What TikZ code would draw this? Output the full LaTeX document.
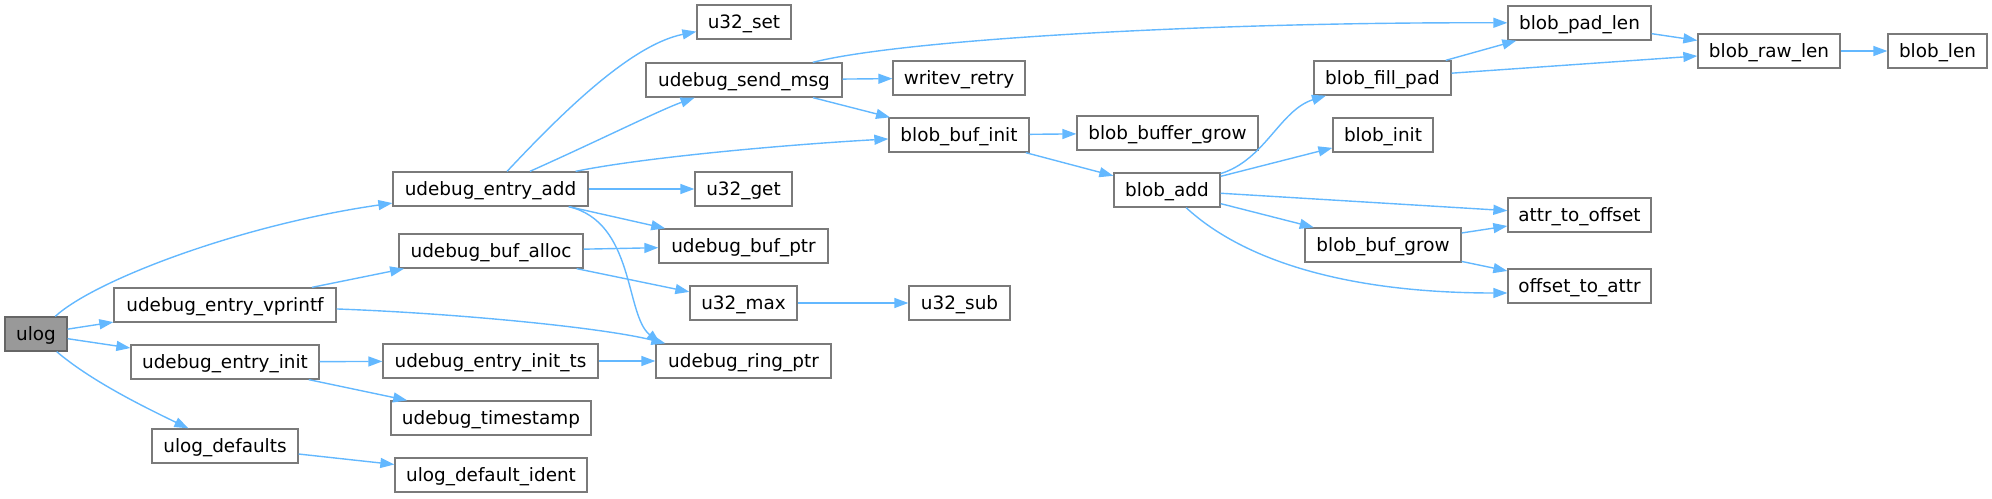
\documentclass[tikz,border=0pt]{standalone}
\usepackage{fontspec}
\setmainfont{DejaVu Sans}
\usetikzlibrary{arrows.meta,calc}
\definecolor{edgeblue}{HTML}{63B8FF}
\definecolor{boxline}{HTML}{7A7A7A}
\definecolor{rootfill}{HTML}{999999}
\definecolor{rootline}{HTML}{666666}
\begin{document}
\begin{tikzpicture}[x=1pt,y=-1pt,
  fn/.style={draw=boxline, line width=1.3pt, fill=white, minimum height=34pt,
    inner sep=0pt, font=\fontsize{18.4pt}{22pt}\selectfont, text height=14pt, text depth=1pt},
  root/.style={fn, fill=rootfill, draw=rootline},
  call/.style={draw=edgeblue, line width=1.4pt, -{Triangle[length=14pt,width=10pt]}}]
\useasboundingbox (0,0) rectangle (1992,498);

\node[root, minimum width=62pt] (ulog) at (36,334) {ulog};
\node[fn, minimum width=222pt] (vprintf) at (225,305) {udebug\_entry\_vprintf};
\node[fn, minimum width=188pt] (einit) at (225,362) {udebug\_entry\_init};
\node[fn, minimum width=146pt] (udefs) at (225,446) {ulog\_defaults};
\node[fn, minimum width=195pt] (eadd) at (490.5,189) {udebug\_entry\_add};
\node[fn, minimum width=184pt] (balloc) at (491,251) {udebug\_buf\_alloc};
\node[fn, minimum width=215pt] (initts) at (490.5,361) {udebug\_entry\_init\_ts};
\node[fn, minimum width=200pt] (tstamp) at (491,418) {udebug\_timestamp};
\node[fn, minimum width=192pt] (dident) at (491,475) {ulog\_default\_ident};
\node[fn, minimum width=94pt] (uset) at (744,22) {u32\_set};
\node[fn, minimum width=196pt] (sendmsg) at (744,80) {udebug\_send\_msg};
\node[fn, minimum width=97pt] (uget) at (743.5,189) {u32\_get};
\node[fn, minimum width=169pt] (bufptr) at (743.5,246) {udebug\_buf\_ptr};
\node[fn, minimum width=107pt] (umax) at (743.5,303) {u32\_max};
\node[fn, minimum width=175pt] (ringptr) at (743.5,361) {udebug\_ring\_ptr};
\node[fn, minimum width=132pt] (writev) at (959,78) {writev\_retry};
\node[fn, minimum width=140pt] (bbinit) at (959,135) {blob\_buf\_init};
\node[fn, minimum width=101pt] (usub) at (959.5,303) {u32\_sub};
\node[fn, minimum width=181pt] (bbgrowb) at (1167.5,133) {blob\_buffer\_grow};
\node[fn, minimum width=106pt] (badd) at (1167,190) {blob\_add};
\node[fn, minimum width=137pt] (bfill) at (1382.5,78) {blob\_fill\_pad};
\node[fn, minimum width=100pt] (binit) at (1383,135) {blob\_init};
\node[fn, minimum width=156pt] (bgrow) at (1383,245) {blob\_buf\_grow};
\node[fn, minimum width=143pt] (bpad) at (1579.5,23) {blob\_pad\_len};
\node[fn, minimum width=143pt] (atoo) at (1579.5,215) {attr\_to\_offset};
\node[fn, minimum width=143pt] (otoa) at (1579.5,286) {offset\_to\_attr};
\node[fn, minimum width=142pt] (braw) at (1769,51) {blob\_raw\_len};
\node[fn, minimum width=99pt] (blen) at (1937.5,51) {blob\_len};

% straight calls
\draw[call] (ulog) -- (vprintf);
\draw[call] (ulog) -- (einit);
\draw[call] (vprintf) -- (balloc);
\draw[call] (einit) -- (initts);
\draw[call] (einit) -- (tstamp);
\draw[call] (udefs) -- (dident);
\draw[call] (initts) -- (ringptr);
\draw[call] (eadd) -- (uget);
\draw[call] (eadd) -- (bufptr);
\draw[call] (balloc) -- (bufptr);
\draw[call] (balloc) -- (umax);
\draw[call] (umax) -- (usub);
\draw[call] (sendmsg) -- (writev);
\draw[call] (sendmsg) -- (bbinit);
\draw[call] (bbinit) -- (bbgrowb);
\draw[call] (bbinit) -- (badd);
\draw[call] (badd) -- (binit);
\draw[call] (badd) -- (atoo);
\draw[call] (badd) -- (bgrow);
\draw[call] (bfill) -- (bpad);
\draw[call] (bfill) -- (braw);
\draw[call] (bpad) -- (braw);
\draw[call] (braw) -- (blen);
\draw[call] (bgrow) -- (atoo);
\draw[call] (bgrow) -- (otoa);

% curved calls
\draw[call] (ulog) .. controls (95,280) and (240,225) .. (eadd);
\draw[call] (ulog) .. controls (90,380) and (140,405) .. (udefs);
\draw[call] (eadd) .. controls (560,115) and (630,45) .. (uset);
\draw[call] (eadd) .. controls (600,140) and (660,110) .. (sendmsg);
\draw[call] (eadd) .. controls (640,158) and (780,145) .. (bbinit);
\draw[call] ($(eadd.south east)+(-20,0)$) .. controls (635,222) and (625,315) .. ($(ringptr.north west)+(5,0)$);
\draw[call] (vprintf) .. controls (450,313) and (600,327) .. ($(ringptr.north west)+(10,0)$);
\draw[call] (sendmsg) .. controls (900,40) and (1200,22) .. (bpad);
\draw[call] (badd) .. controls (1265,160) and (1280,110) .. (bfill);
\draw[call] (badd) .. controls (1245,262) and (1350,293) .. ($(otoa.west)+(0,7)$);
\end{tikzpicture}
\end{document}
